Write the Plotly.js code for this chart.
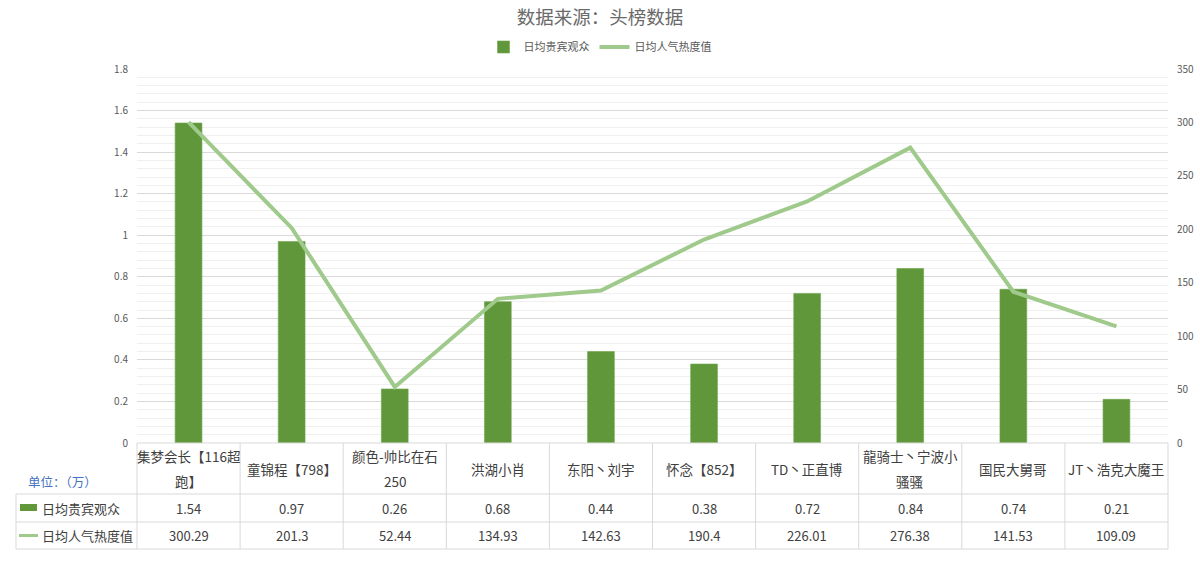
<!DOCTYPE html>
<html>
<head>
<meta charset="utf-8">
<script src="https://cdn.plot.ly/plotly-3.0.1.min.js"></script>
<style>
  html, body { margin: 0; padding: 0; background: #fff; }
  #chart { width: 1200px; height: 570px; }
</style>
</head>
<body>
<div id="chart"></div>
<script>
// data
const categories = ['集梦会长【116超<br>跑】', '童锦程【798】', '颜色-帅比在石<br>250', '洪湖小肖', '东阳丶刘宇',
  '怀念【852】', 'TD丶正直博', '龍骑士丶宁波小<br>骚骚', '国民大舅哥', 'JT丶浩克大魔王'];
const guestViewers = [1.54, 0.97, 0.26, 0.68, 0.44, 0.38, 0.72, 0.84, 0.74, 0.21];
const heatValues = [300.29, 201.3, 52.44, 134.93, 142.63, 190.4, 226.01, 276.38, 141.53, 109.09];
const seriesNames = ['日均贵宾观众', '日均人气热度值'];
const unitLabel = '单位：（万）';

const FONT = '"Noto Sans CJK SC", "Noto Sans", sans-serif';
const BAR_COLOR = '#5f973a';
const LINE_COLOR = '#9fca8b';
const GRID = '#d9d9d9';
const TEXT = '#404040';

// pixel geometry of the plot area, used to place the data table under it
const W = 1200, H = 570;
const M = { l: 137, r: 32, t: 69, b: 127 };
const plotW = W - M.l - M.r;
const plotH = H - M.t - M.b;
const px = x => (x - M.l) / plotW;          // page px -> paper x
const py = y => (H - M.b - y) / plotH;       // page px -> paper y

const rowTop = [443, 494, 522];
const rowBot = [494, 522, 549];
const tableLeft = 16;

const traces = [
  {
    type: 'bar',
    name: seriesNames[0],
    x: categories,
    y: guestViewers,
    marker: { color: BAR_COLOR, line: { color: '#6ea64a', width: 0.6 } },
    hoverinfo: 'y'
  },
  {
    type: 'scatter',
    mode: 'lines',
    name: seriesNames[1],
    x: categories,
    y: heatValues,
    yaxis: 'y2',
    line: { color: LINE_COLOR, width: 4 },
    hoverinfo: 'y'
  }
];

const shapes = [];
const annotations = [];
const line = (x0, y0, x1, y1) => shapes.push({
  type: 'line', xref: 'paper', yref: 'paper',
  x0: x0, y0: y0, x1: x1, y1: y1,
  line: { color: GRID, width: 1 }
});

// horizontal rules of the table
line(0, py(rowTop[0]), 1, py(rowTop[0]));
for (let r = 1; r < 3; r++) line(px(tableLeft), py(rowTop[r]), 1, py(rowTop[r]));
line(px(tableLeft), py(rowBot[2]), 1, py(rowBot[2]));
// vertical rules
line(px(tableLeft), py(rowTop[1]), px(tableLeft), py(rowBot[2]));
for (let i = 0; i <= categories.length; i++) {
  const xx = i / categories.length;
  line(xx, py(rowTop[0]), xx, py(rowBot[2]));
}

// header cells (category names, split over lines)
categories.forEach((c, i) => {
  const parts = c.split('<br>');
  const mid = (rowTop[0] + rowBot[0]) / 2;
  parts.forEach((p, k) => {
    const yy = mid + (k - (parts.length - 1) / 2) * 25;
    annotations.push({
      xref: 'x', yref: 'paper', x: i, y: py(yy),
      text: p, showarrow: false, xanchor: 'center', yanchor: 'middle',
      font: { family: FONT, size: 13.5, color: TEXT }
    });
  });
});

// value cells
[guestViewers, heatValues].forEach((vals, r) => {
  const mid = (rowTop[r + 1] + rowBot[r + 1]) / 2;
  vals.forEach((v, i) => {
    annotations.push({
      xref: 'x', yref: 'paper', x: i, y: py(mid),
      text: String(v), showarrow: false, xanchor: 'center', yanchor: 'middle',
      font: { family: FONT, size: 13, color: TEXT }
    });
  });
  annotations.push({
    xref: 'paper', yref: 'paper', x: px(40), y: py(mid),
    text: seriesNames[r], showarrow: false, xanchor: 'left', yanchor: 'middle',
    font: { family: FONT, size: 13, color: TEXT }
  });
});

// legend keys inside the table
const mid1 = (rowTop[1] + rowBot[1]) / 2, mid2 = (rowTop[2] + rowBot[2]) / 2;
shapes.push({
  type: 'rect', xref: 'paper', yref: 'paper',
  x0: px(20), x1: px(37), y0: py(mid1 - 4), y1: py(mid1 + 3),
  fillcolor: BAR_COLOR, line: { width: 0 }
});
shapes.push({
  type: 'line', xref: 'paper', yref: 'paper',
  x0: px(19), x1: px(38), y0: py(mid2), y1: py(mid2),
  line: { color: LINE_COLOR, width: 3 }
});

// unit label
annotations.push({
  xref: 'paper', yref: 'paper', x: px(26), y: py(481),
  text: unitLabel, showarrow: false, xanchor: 'left', yanchor: 'middle',
  font: { family: FONT, size: 12.5, color: '#4472c4' }
});

const layout = {
  width: W,
  height: H,
  margin: { l: M.l, r: M.r, t: M.t, b: M.b, autoexpand: false },
  paper_bgcolor: '#fff',
  plot_bgcolor: '#fff',
  font: { family: FONT, size: 10, color: '#595959' },
  title: {
    text: '数据来源：头榜数据',
    x: 0.5, xref: 'container',
    y: 1 - 18 / H, yref: 'container', yanchor: 'middle',
    font: { family: FONT, size: 18.5, color: '#6a6a6a' }
  },
  showlegend: true,
  legend: {
    orientation: 'h',
    xref: 'container', x: 0.5, xanchor: 'center',
    yref: 'container', y: 1 - 47 / H, yanchor: 'middle',
    font: { family: FONT, size: 11, color: '#595959' },
    traceorder: 'normal'
  },
  bargap: 0.74,
  xaxis: {
    type: 'category',
    range: [-0.5, categories.length - 0.5],
    showticklabels: false,
    showgrid: false,
    zeroline: false,
    showline: false,
    ticks: '',
    automargin: false
  },
  yaxis: {
    range: [0, 1.8],
    dtick: 0.2,
    tick0: 0,
    tickformat: '~r',
    showgrid: true,
    gridcolor: '#d9d9d9',
    gridwidth: 1,
    minor: { dtick: 0.04, tick0: 0, showgrid: true, gridcolor: '#f0f0f0', gridwidth: 1 },
    zeroline: false,
    showline: false,
    ticks: '',
    ticklabelstandoff: 8,
    automargin: false,
    tickfont: { family: FONT, size: 10, color: '#595959' },
    fixedrange: true
  },
  yaxis2: {
    overlaying: 'y',
    side: 'right',
    range: [0, 350],
    dtick: 50,
    showgrid: false,
    zeroline: false,
    showline: false,
    ticks: '',
    ticklabelstandoff: 8,
    automargin: false,
    tickfont: { family: FONT, size: 10, color: '#595959' },
    fixedrange: true
  },
  shapes: shapes,
  annotations: annotations
};

Plotly.newPlot('chart', traces, layout, { displayModeBar: false, staticPlot: true });
</script>
</body>
</html>
